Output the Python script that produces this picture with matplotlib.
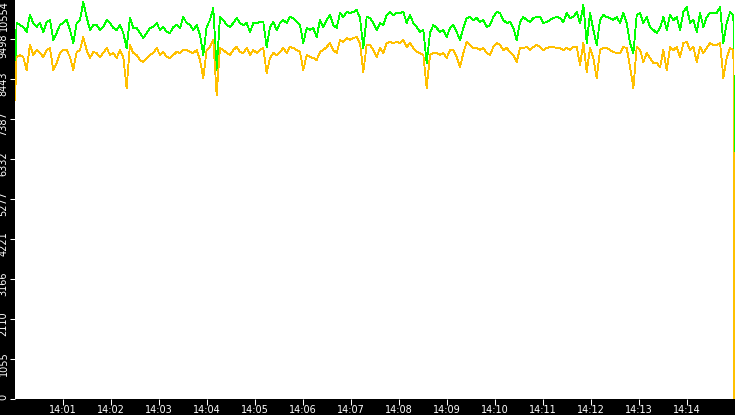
import matplotlib
matplotlib.use("Agg")
import matplotlib.pyplot as plt
import matplotlib.dates as mdates
import matplotlib.transforms as mtransforms
import numpy as np
import pandas as pd

# ---- data (one sample every ~4 s) ----
green_start, green_end = 8364, 4650
orange_start, orange_end = 7889, 0

green_vals = [
    9921, 9868, 9815, 9683, 10132, 9921, 9815, 9921, 9683, 9947,
    10000, 9472, 9657, 9868, 9921, 10000, 9736, 9393, 9921, 10000,
    10475, 10079, 9736, 9868, 9868, 9736, 9815, 10000, 9921, 9789,
    9736, 9868, 9657, 9261, 10053, 9789, 9789, 9657, 9525, 9657,
    9789, 9815, 9921, 9736, 9815, 9683, 9657, 9815, 9868, 9789,
    10079, 9921, 9868, 9736, 9868, 9604, 9076, 9815, 10000, 10316,
    8681, 10079, 10000, 9868, 9815,
    9921, 10053, 9921, 9868, 9921, 9683, 9921, 9921, 9947, 9947,
    9288, 9815, 9947, 9736, 9921, 10000, 9921, 10079, 10053, 9947,
    9868, 9393, 9789, 9736, 9789, 9551, 10000, 9815, 10000, 10132,
    9868, 9789, 10185, 10079, 10211, 10185, 10211, 10264, 10053, 9261,
    10079, 10053, 9921, 9736, 9921, 9868, 10132,
    10211, 10132, 10185, 10185, 10211, 9921, 10132, 9921, 9815, 9683,
    9736, 8865, 9657, 9868, 9789, 9683, 9736, 9551, 9789, 9868,
    9683, 9472, 9789, 10053, 10079, 10000, 10053, 9947, 10000, 9815,
    9868, 10079, 10211, 10185, 10000, 9921, 9947, 9789, 9472, 9947,
    10079, 10000, 9947, 10053, 10079,
    10079, 9921, 9947, 10000, 10053, 10079, 10053, 9947, 10185, 10053,
    10079, 10211, 9921, 10396, 9393, 10185, 9736, 9340, 10000, 10132,
    10079, 10053, 10000, 10079,
    9921, 10185, 9921, 9393, 9129, 10132, 10185, 9921, 10079, 9815,
    9736, 9657, 9789, 10079, 9736, 10132, 10000, 10079, 9736, 10211,
    10343, 9921, 10000, 9683, 10185, 9815, 10079, 10185, 10185, 10185,
    10343, 9393, 9921, 10211, 10132,
]

orange_vals = [
    9024, 9076, 9024, 8681, 9340, 9076, 9208, 9129, 9024, 9208,
    9261, 8681, 8865, 9129, 9208, 9208, 9024, 8681, 9156, 9208,
    9551, 9208, 8997, 9156, 9129, 9024, 9129, 9261, 9076, 9129,
    8997, 9208, 9024, 8206, 9340, 9129, 9076, 8945, 8892, 8997,
    9076, 9129, 9261, 9076, 9156, 9024, 8997, 9076, 9156, 9129,
    9208, 9208, 9156, 9129, 9208, 8945, 8470, 9208, 9288, 9472,
    8021, 9261, 9208, 9129, 9076,
    9208, 9288, 9156, 9129, 9261, 9076, 9208, 9129, 9208, 9261,
    8601, 8997, 9129, 9076, 9156, 9261, 9129, 9288, 9261, 9208,
    9156, 8681, 9076, 9024, 8997, 8945, 9156, 9208, 9288, 9393,
    9208, 9129, 9472, 9420, 9525, 9472, 9525, 9551, 9393, 8628,
    9340, 9340, 9208, 9024, 9261, 9129, 9393,
    9420, 9393, 9420, 9393, 9472, 9288, 9393, 9261, 9156, 9129,
    9076, 8206, 9076, 9129, 9129, 9076, 9129, 8997, 9208, 9208,
    9024, 8760, 9129, 9420, 9340, 9261, 9261, 9208, 9261, 9129,
    9076, 9288, 9393, 9340, 9208, 9261, 9156, 9076, 8892, 9261,
    9261, 9288, 9208, 9288, 9340,
    9288, 9208, 9261, 9288, 9288, 9261, 9261, 9208, 9261, 9208,
    9288, 9288, 8813, 9393, 8628, 9261, 8997, 8470, 9208, 9261,
    9261, 9208, 9156, 9129,
    9129, 9288, 9261, 8760, 8206, 9288, 9208, 8892, 9129, 8997,
    8865, 8865, 8760, 9208, 8681, 9288, 9208, 9288, 9024, 9393,
    9420, 9208, 9288, 8892, 9288, 9129, 9261, 9393, 9340, 9340,
    9393, 8470, 8997, 9261, 9208,
]

ytick_values = [0, 1055, 2110, 3166, 4221, 5277, 6332, 7387, 8443, 9498, 10554]
day = "2024-01-01"
t_start, t_end = pd.Timestamp(f"{day} 14:00:00"), pd.Timestamp(f"{day} 14:15:00")


def main() -> None:
    samples = pd.date_range(f"{day} 14:00:02", f"{day} 14:14:58", periods=len(green_vals))
    times = pd.DatetimeIndex([t_start]).append(samples).append(
        pd.DatetimeIndex([pd.Timestamp(f"{day} 14:14:58.8")]))
    green = np.array([green_start] + green_vals + [green_end], dtype=float)
    orange = np.array([orange_start] + orange_vals + [orange_end], dtype=float)

    fig = plt.figure(figsize=(7.35, 4.15), dpi=100, facecolor="black")
    ax = fig.add_axes([15 / 735, 16 / 415, 720 / 735, 399 / 415])
    ax.set_facecolor("white")
    for s in ax.spines.values():
        s.set_visible(False)

    lg, = ax.plot(times, green, color="#00FF00", lw=0.6, zorder=2)
    lo, = ax.plot(times, orange, color="#FFC000", lw=0.6, zorder=3)
    for ln in (lg, lo):
        ln.set_antialiased(False)

    ax.set_xlim(t_start, t_end)
    ax.set_ylim(0, ytick_values[-1] * 399 / 400)

    ax.xaxis.set_major_locator(mdates.MinuteLocator(byminute=range(1, 15)))
    ax.xaxis.set_major_formatter(mdates.DateFormatter("%H:%M"))
    ax.tick_params(axis="x", colors="white", direction="out", length=4.3,
                   width=0.75, pad=0.2, labelsize=7)

    ax.set_yticks(ytick_values[:-1])
    ax.set_yticklabels([])
    ax.tick_params(axis="y", colors="white", direction="out", length=3.6,
                   width=0.75)

    # rotated y labels, sitting a little below their ticks
    base = ax.get_yaxis_transform()
    for v in ytick_values:
        if v == ytick_values[-1]:
            va, dy = "top", -1
        elif v == 0:
            va, dy = "bottom", -1
        elif v == ytick_values[-2]:
            va, dy = "center", -7
        else:
            va, dy = "center", -5
        tr = mtransforms.offset_copy(base, fig=fig, x=-6.5, y=dy, units="dots")
        ax.text(0, v, str(v), transform=tr, rotation=90, ha="right", va=va,
                color="white", fontsize=7.0, clip_on=False)

    fig.savefig("out.png", dpi=100, facecolor="black")
    plt.close(fig)


if __name__ == "__main__":
    main()
